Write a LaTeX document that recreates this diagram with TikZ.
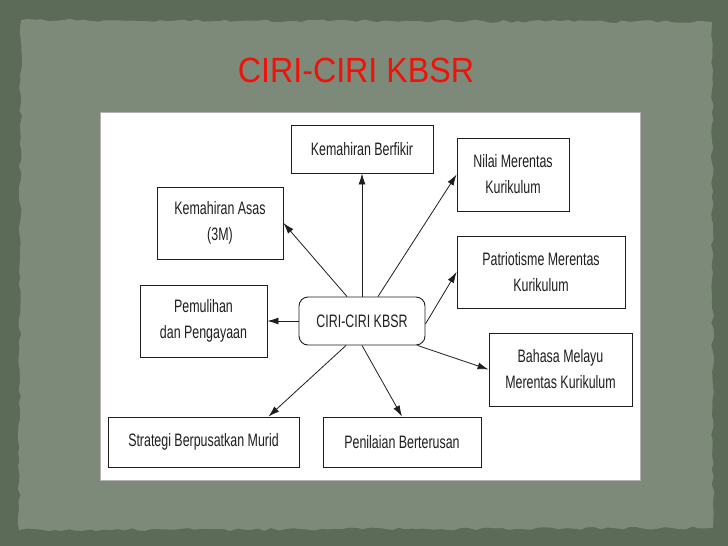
\documentclass[tikz,border=0pt]{standalone}
\usepackage{fontspec}
\setmainfont{Liberation Sans}[FakeStretch=0.69]
\newfontfamily\titlefont{Liberation Sans}[FakeStretch=0.92]
\usetikzlibrary{arrows.meta,decorations.pathmorphing}
\definecolor{outerbg}{HTML}{5B6B57}
\definecolor{innerbg}{HTML}{7E8A79}
\definecolor{titlered}{HTML}{EE1208}
\definecolor{ink}{HTML}{1E1E1E}
\tikzset{
  box/.style={draw=ink, line width=0.9pt, fill=white, inner sep=0pt, align=center,
    text=ink, font=\fontsize{18}{26}\selectfont},
  hub/.style={box, rounded corners=9pt},
  link/.style={draw=ink, line width=0.8pt, -{Latex[length=11pt,width=7pt]}}
}
\begin{document}
\begin{tikzpicture}[x=1pt,y=-1pt]
\useasboundingbox (0,0) rectangle (728,546);
\fill[outerbg] (0,0) rectangle (728,546);
\fill[innerbg, decorate, decoration={random steps, segment length=7pt, amplitude=1.5pt}]
  (21,20) -- (712,22) -- (713,528) -- (19,530) -- cycle;
\fill[white] (100,112) rectangle (640,480);
\draw[gray!60, line width=0.6pt] (100,112) rectangle (640,480);

\node[anchor=base, text=titlered, font=\titlefont\fontsize{35}{40}\selectfont] (title) at (356,82) {CIRI-CIRI KBSR};

\node[hub, minimum width=126pt, minimum height=48pt] (c) at (362,321) {CIRI-CIRI KBSR};
\node[box, minimum width=142pt, minimum height=48pt] (berf) at (362,149) {Kemahiran Berfikir};
\node[box, minimum width=126pt, minimum height=72pt] (asas) at (220,223) {Kemahiran Asas\\(3M)};
\node[box, minimum width=112pt, minimum height=73pt] (nilai) at (513,174.5) {Nilai Merentas\\Kurikulum};
\node[box, minimum width=168pt, minimum height=72pt] (patr) at (541,272) {Patriotisme Merentas\\Kurikulum};
\node[box, minimum width=127pt, minimum height=72pt] (pemul) at (203.5,321) {Pemulihan\\dan Pengayaan};
\node[box, minimum width=143pt, minimum height=73pt] (bahasa) at (560.5,369.5) {Bahasa Melayu\\Merentas Kurikulum};
\node[box, minimum width=191pt, minimum height=50pt] (strat) at (203.5,442) {Strategi Berpusatkan Murid};
\node[box, minimum width=158pt, minimum height=50pt] (penil) at (402,442) {Penilaian Berterusan};

\draw[link] (c.north) -- (berf.south);
\draw[link] ([xshift=-15pt]c.north) -- (asas.east);
\draw[link] ([xshift=16pt]c.north) -- (nilai.west);
\draw[link] ([yshift=-3pt]c.east) -- (patr.west);
\draw[link] (c.west) -- (pemul.east);
\draw[link] ([xshift=-16pt]c.south) -- ([xshift=65pt]strat.north);
\draw[link] (c.south) -- (penil.north);
\draw[link] ([xshift=-8pt]c.south east) -- (bahasa.west);
\end{tikzpicture}
\end{document}
